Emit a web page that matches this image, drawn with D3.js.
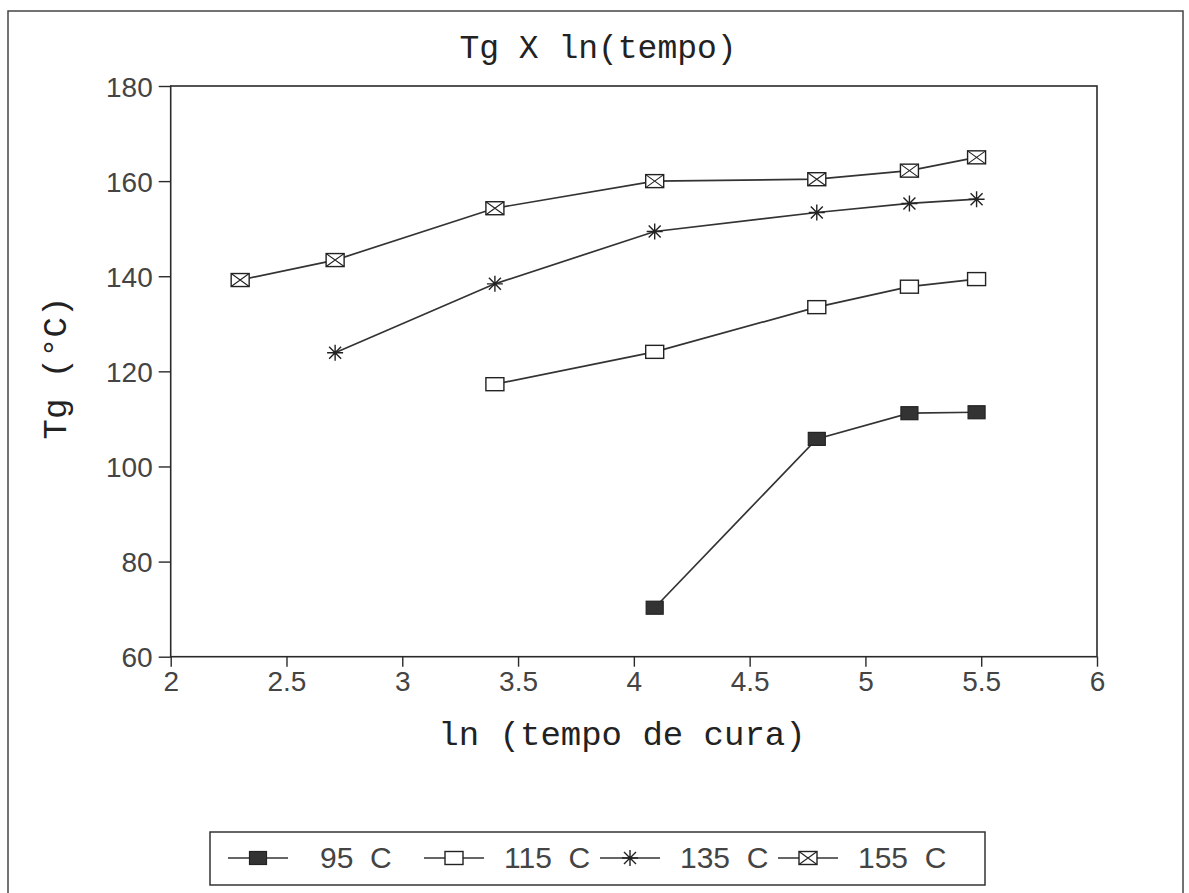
<!DOCTYPE html>
<html>
<head>
<meta charset="utf-8">
<script src="https://cdn.jsdelivr.net/npm/d3@7"></script>
<style>
  body { margin: 0; background: #fff; }
  svg { display: block; }
</style>
</head>
<body>
<div id="chart"></div>
<script>
// ln(tempo de cura) values
var lnTempo = [2.30, 2.71, 3.40, 4.09, 4.79, 5.19, 5.48];

// Tg readings per cure temperature
var tg95  = [null, null, null, 70.3, 105.8, 111.2, 111.4];
var tg115 = [null, null, 117.3, 124.1, 133.5, 137.8, 139.4];
var tg135 = [null, 123.9, 138.4, 149.4, 153.4, 155.3, 156.2];
var tg155 = [139.2, 143.4, 154.3, 160.0, 160.4, 162.2, 165.0];

var seriesNames = ['95 C', '115 C', '135 C', '155 C'];
var markerTypes = ['filled', 'box', 'star', 'xbox'];

var xTicks = [2, 2.5, 3, 3.5, 4, 4.5, 5, 5.5, 6];
var yTicks = [60, 80, 100, 120, 140, 160, 180];

var width = 1189, height = 893;
var margin = { left: 170.7, top: 86, right: 1189 - 1097, bottom: 893 - 656.7 };

var svg = d3.select('#chart').append('svg')
    .attr('width', width).attr('height', height);

var ink = '#2a2a2a';
var tickFont = '"Liberation Sans Narrow", "Liberation Sans", sans-serif';
var monoFont = '"Liberation Mono", "DejaVu Sans Mono", monospace';

// outer frame
svg.append('rect')
   .attr('x', 8).attr('y', 11)
   .attr('width', 1175).attr('height', 900)
   .attr('fill', 'none').attr('stroke', '#444').attr('stroke-width', 1.5);

var x = d3.scaleLinear().domain([2, 6]).range([margin.left, width - margin.right]);
var y = d3.scaleLinear().domain([60, 180]).range([height - margin.bottom, margin.top]);

// plot box
svg.append('rect')
   .attr('x', x(2)).attr('y', y(180))
   .attr('width', x(6) - x(2)).attr('height', y(60) - y(180))
   .attr('fill', 'none').attr('stroke', ink).attr('stroke-width', 1.6);

// axes
var xAxis = svg.append('g')
   .attr('transform', 'translate(0,' + y(60) + ')')
   .call(d3.axisBottom(x).tickValues(xTicks).tickSize(10).tickPadding(4)
         .tickFormat(function(d) { return String(d); }));

var yAxis = svg.append('g')
   .attr('transform', 'translate(' + x(2) + ',0)')
   .call(d3.axisLeft(y).tickValues(yTicks).tickSize(12).tickPadding(6));

[xAxis, yAxis].forEach(function(g) {
   g.select('.domain').remove();
   g.selectAll('line').attr('stroke', ink).attr('stroke-width', 1.4);
   g.selectAll('text')
    .attr('fill', '#444')
    .style('font-family', tickFont)
    .style('font-size', '28px');
});
yAxis.selectAll('text').attr('dy', '0.36em');

// title and axis labels
svg.append('text')
   .attr('x', 598).attr('y', 58)
   .attr('text-anchor', 'middle')
   .style('font-family', monoFont).style('font-size', '33px')
   .attr('fill', '#222')
   .text('Tg X ln(tempo)');

svg.append('text')
   .attr('x', 622).attr('y', 745)
   .attr('text-anchor', 'middle')
   .style('font-family', monoFont).style('font-size', '34px')
   .attr('fill', '#222')
   .text('ln (tempo de cura)');

svg.append('text')
   .attr('transform', 'translate(66,368) rotate(-90)')
   .attr('text-anchor', 'middle')
   .style('font-family', monoFont).style('font-size', '34px')
   .attr('fill', '#222')
   .text('Tg (°C)');

// marker drawing
function drawMarker(g, type) {
   if (type === 'filled') {
      g.append('rect').attr('x', -8.5).attr('y', -6.5).attr('width', 17).attr('height', 13)
       .attr('fill', '#333').attr('stroke', '#222').attr('stroke-width', 1.2);
   } else if (type === 'box') {
      g.append('rect').attr('x', -9).attr('y', -6.5).attr('width', 18).attr('height', 13)
       .attr('fill', '#fff').attr('stroke', '#222').attr('stroke-width', 1.4);
   } else if (type === 'star') {
      g.append('path')
       .attr('d', 'M-8,0H8M0,-8V8M-6,-6L6,6M-6,6L6,-6')
       .attr('stroke', '#222').attr('stroke-width', 1.4).attr('fill', 'none');
   } else {
      g.append('rect').attr('x', -9).attr('y', -6.5).attr('width', 18).attr('height', 13)
       .attr('fill', '#fff').attr('stroke', '#222').attr('stroke-width', 1.4);
      g.append('path').attr('d', 'M-9,-6.5L9,6.5M-9,6.5L9,-6.5')
       .attr('stroke', '#222').attr('stroke-width', 1.1).attr('fill', 'none');
   }
}

var allSeries = [tg95, tg115, tg135, tg155];

var line = d3.line()
   .defined(function(d) { return d.v !== null; })
   .x(function(d) { return x(d.t); })
   .y(function(d) { return y(d.v); });

allSeries.forEach(function(vals, si) {
   var pts = lnTempo.map(function(t, i) { return { t: t, v: vals[i] }; });

   svg.append('path')
      .datum(pts)
      .attr('d', line)
      .attr('fill', 'none')
      .attr('stroke', '#333')
      .attr('stroke-width', 1.7);

   svg.selectAll('g.m' + si)
      .data(pts.filter(function(d) { return d.v !== null; }))
      .enter()
      .append('g')
      .attr('class', 'm' + si)
      .attr('transform', function(d) { return 'translate(' + x(d.t) + ',' + y(d.v) + ')'; })
      .each(function() { drawMarker(d3.select(this), markerTypes[si]); });
});

// legend
var legend = svg.append('g');
legend.append('rect')
   .attr('x', 210).attr('y', 832).attr('width', 775).attr('height', 53)
   .attr('fill', '#fff').attr('stroke', '#333').attr('stroke-width', 1.5);

var legendX = [228, 424, 600, 778];
seriesNames.forEach(function(name, i) {
   var g = legend.append('g').attr('transform', 'translate(' + legendX[i] + ',858)');
   g.append('line').attr('x1', 0).attr('x2', 60).attr('y1', 0).attr('y2', 0)
    .attr('stroke', '#333').attr('stroke-width', 1.6);
   var m = g.append('g').attr('transform', 'translate(30,0)');
   drawMarker(m, markerTypes[i]);
   g.append('text')
    .attr('x', i === 0 ? 92 : 80).attr('y', 10)
    .style('font-family', tickFont).style('font-size', '30px')
    .attr('fill', '#444')
    .attr('xml:space', 'preserve')
    .text(name.replace(' ', '  '));
});
</script>
</body>
</html>
